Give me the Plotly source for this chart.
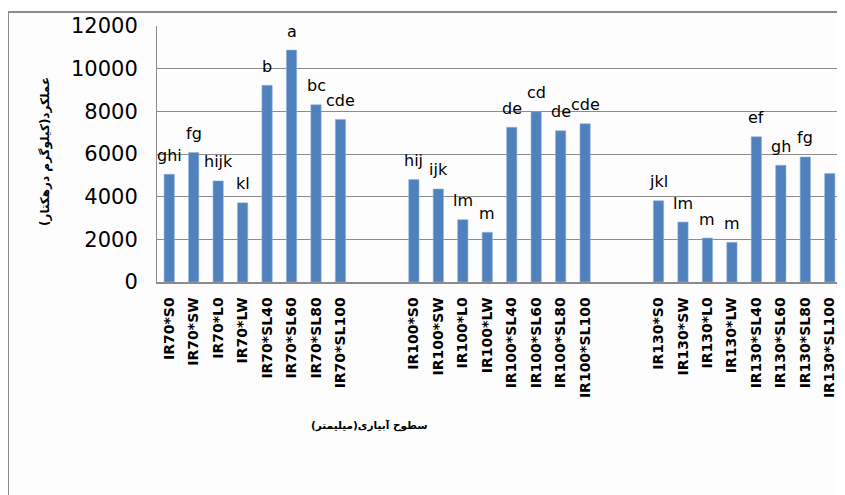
import plotly.graph_objects as go

# ---- data ----
categories = [
    "IR70*S0", "IR70*SW", "IR70*L0", "IR70*LW", "IR70*SL40", "IR70*SL60", "IR70*SL80", "IR70*SL100",
    "IR100*S0", "IR100*SW", "IR100*L0", "IR100*LW", "IR100*SL40", "IR100*SL60", "IR100*SL80", "IR100*SL100",
    "IR130*S0", "IR130*SW", "IR130*L0", "IR130*LW", "IR130*SL40", "IR130*SL60", "IR130*SL80", "IR130*SL100",
]
values = [
    5050, 6070, 4740, 3710, 9220, 10870, 8310, 7620,
    4800, 4360, 2920, 2330, 7250, 7980, 7090, 7420,
    3810, 2810, 2060, 1860, 6810, 5470, 5860, 5090,
]
letters = [
    "ghi", "fg", "hijk", "kl", "b", "a", "bc", "cde",
    "hij", "ijk", "lm", "m", "de", "cd", "de", "cde",
    "jkl", "lm", "m", "m", "ef", "gh", "fg", "",
]
# slot index of each bar on the category axis (two empty slots between groups)
slots = [0, 1, 2, 3, 4, 5, 6, 7,
         10, 11, 12, 13, 14, 15, 16, 17,
         20, 21, 22, 23, 24, 25, 26, 27]
y_ticks = [0, 2000, 4000, 6000, 8000, 10000, 12000]

y_title = "عملکرد(کیلوگرم درهکتار)"
x_title = "سطوح آبیاری(میلیمتر)"

OFF = 8  # page body margin
W, H = 845 - OFF, 495 - OFF
L, R, T, B = 157 - OFF, 3, 26 - OFF, 213


fig = go.Figure()
fig.add_trace(go.Bar(
    x=slots, y=values,
    marker=dict(color="#4F81BD", line=dict(color="#8EB4E3", width=0.6)),
    width=0.42,
    hoverinfo="x+y",
))

for s, v, t in zip(slots, values, letters):
    if t:
        fig.add_annotation(x=s, y=v, text=t, showarrow=False, yanchor="middle",
                           yshift=19, font=dict(family="DejaVu Sans", size=16, color="#000000"))

pw = W - L - R
ph = H - T - B
def px_to_paper_x(px):
    return (px - OFF - L) / pw
def py_to_paper_y(py):
    return (H - B - (py - OFF)) / ph

fig.add_annotation(x=px_to_paper_x(45), y=py_to_paper_y(152), xref="paper", yref="paper",
                   text=y_title, textangle=-90, showarrow=False,
                   xanchor="center", yanchor="middle",
                   font=dict(family="DejaVu Sans", size=12, color="#000000", weight="bold"))
fig.add_annotation(x=px_to_paper_x(369), y=py_to_paper_y(425), xref="paper", yref="paper",
                   text=x_title, showarrow=False, xanchor="center", yanchor="middle",
                   font=dict(family="DejaVu Sans", size=10.5, color="#000000", weight="bold"))

# outer chart frame
fig.add_shape(type="rect", xref="paper", yref="paper",
              x0=px_to_paper_x(8), x1=px_to_paper_x(900),
              y0=py_to_paper_y(600), y1=py_to_paper_y(12),
              line=dict(color="#8C8C8C", width=2), layer="below")

fig.update_layout(
    width=W, height=H,
    margin=dict(l=L, r=R, t=T, b=B),
    paper_bgcolor="#FDFDFD", plot_bgcolor="#FDFDFD",
    showlegend=False,
    xaxis=dict(
        range=[-0.5, 27.5], tickmode="array", tickvals=slots, ticktext=categories,
        tickangle=-90, tickfont=dict(family="DejaVu Sans", size=14, color="#000000", weight="bold"),
        showgrid=False, zeroline=False, showline=True, linecolor="#8C8C8C", linewidth=1.5,
        ticks="outside", ticklen=8, tickcolor="rgba(0,0,0,0)",
    ),
    yaxis=dict(
        range=[0, 12000], tickmode="array", tickvals=y_ticks, tickformat="d",
        tickfont=dict(family="DejaVu Sans", size=21, color="#000000"),
        showgrid=True, gridcolor="#8C8C8C", gridwidth=1,
        zeroline=False, showline=True, linecolor="#8C8C8C", linewidth=1,
        ticks="outside", ticklen=14, tickcolor="rgba(0,0,0,0)",
    ),
)

fig.write_html("out.html")
